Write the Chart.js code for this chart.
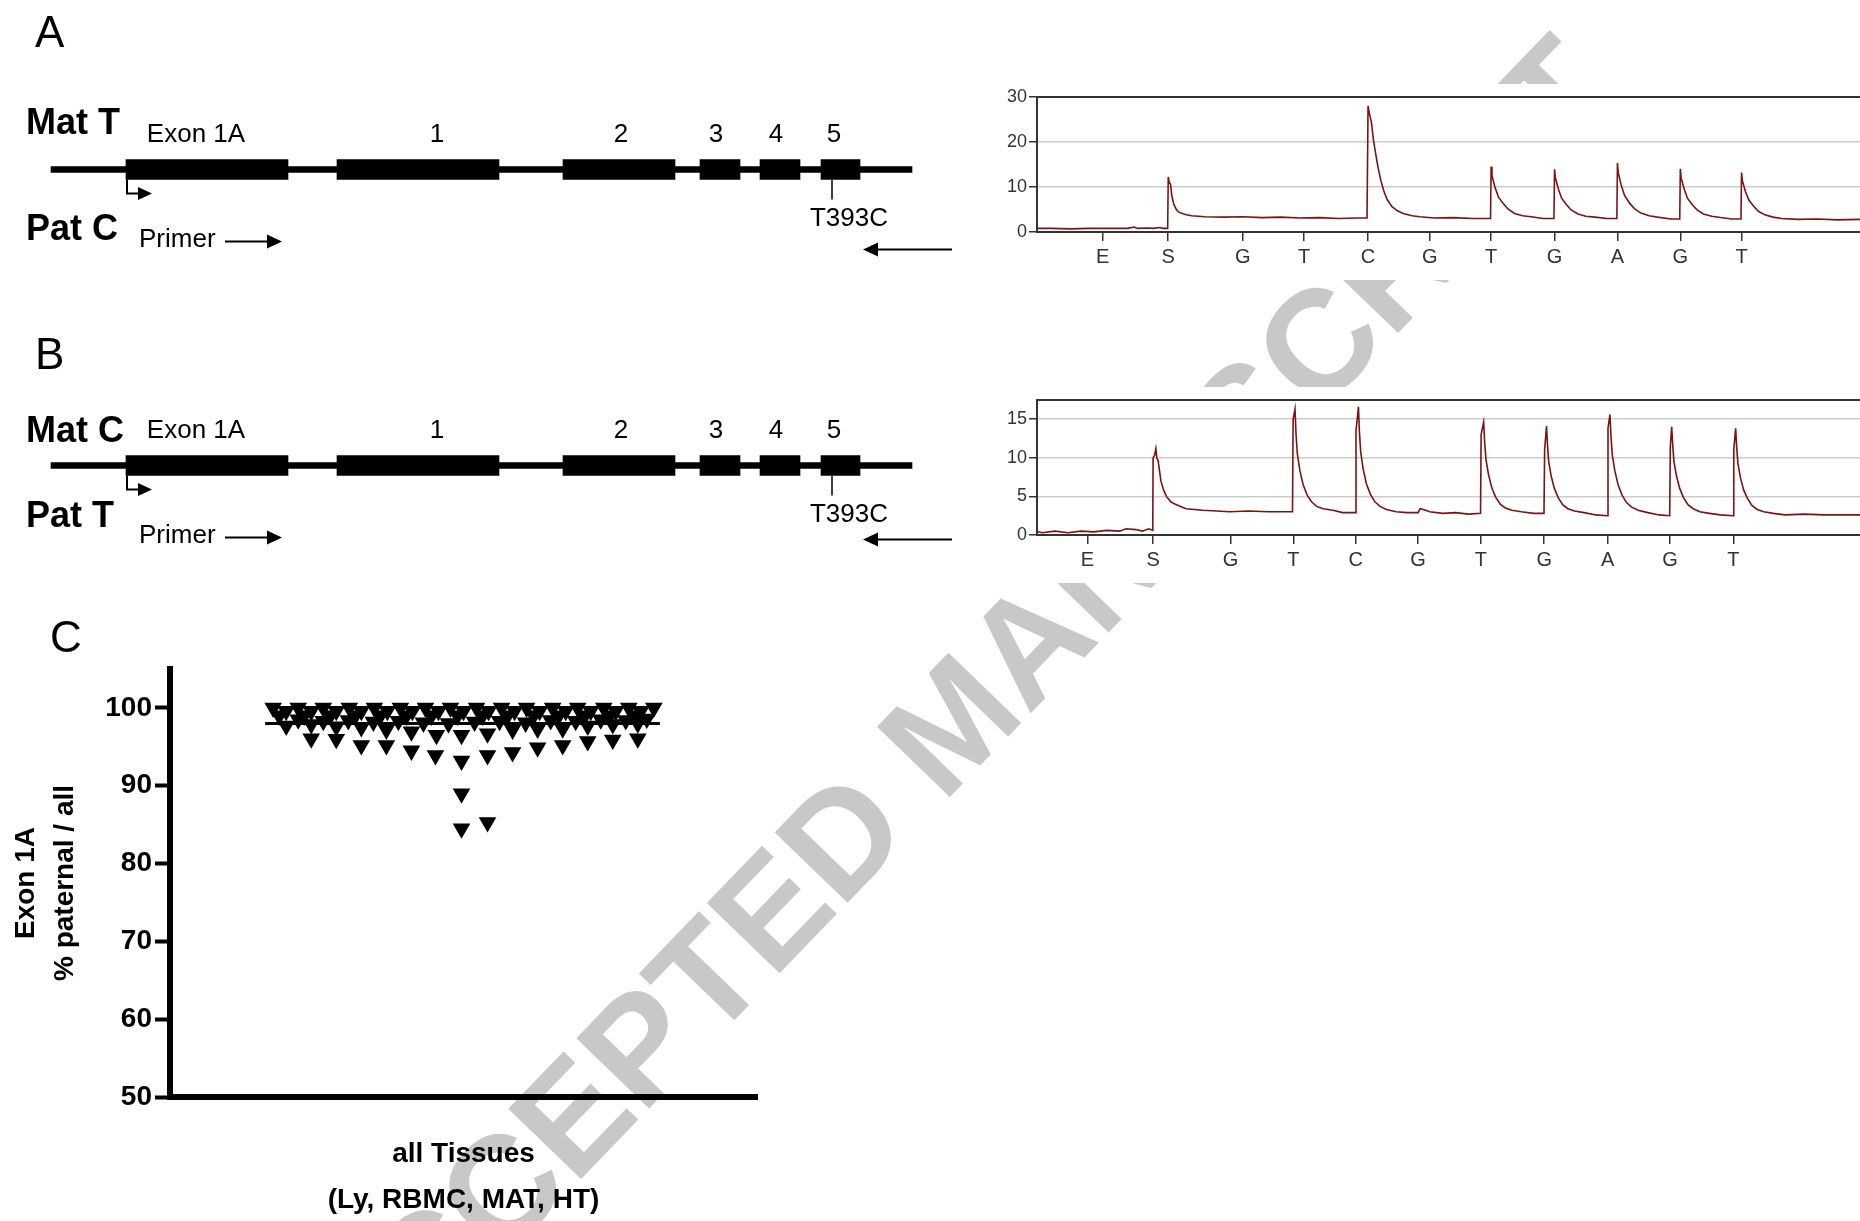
<!DOCTYPE html>
<html lang="en">
<head>
  <meta charset="UTF-8" />
  <title>Exon 1A allele expression</title>
  <script src="https://cdn.jsdelivr.net/npm/chart.js"></script>
  <style>
    body { margin: 0; width: 1860px; height: 1221px; overflow: hidden; background: #fff; position: relative;
           font-family: "Liberation Sans", Arial, sans-serif; }
    .box { position: absolute; }
    .panel { position: absolute; font-size: 44px; line-height: 1; transform: translateY(-50%); }
    #wm { position: absolute; left: 952px; top: 722px; transform: translate(-50%, -50%) rotate(-46deg);
          font: bold 147px "Liberation Sans", Arial, sans-serif; color: #c8c8c8; white-space: nowrap; line-height: 1; }
  </style>
</head>
<body>
  <div id="wm">ACCEPTED MANUSCRIPT</div>

  <div class="box" style="left:0;top:0"><canvas id="geneA" width="975" height="339"></canvas></div>
  <div class="box" style="left:0;top:316px"><canvas id="geneB" width="975" height="299"></canvas></div>
  <div class="box" style="left:977px;top:84px"><canvas id="pyroA" width="883" height="196"></canvas></div>
  <div class="box" style="left:977px;top:387px"><canvas id="pyroB" width="883" height="196"></canvas></div>
  <div class="box" style="left:0;top:620px"><canvas id="scatterC" width="800" height="603"></canvas></div>

  <div class="panel" style="left:35px;top:32px">A</div>
  <div class="panel" style="left:35px;top:354px">B</div>
  <div class="panel" style="left:50px;top:637px">C</div>

  <script>
    // ---- gene diagram (positions along the drawn locus) ----
    const exonNames = ['Exon 1A', '1', '2', '3', '4', '5'];
    const exonStart = [126, 337, 563, 700, 760, 821];
    const exonEnd = [288, 499, 675, 740, 800, 860];
    const exonLabelX = [196, 437, 621, 716, 776, 834];
    const geneSpan = [51, 912];
    const tssPos = 127;
    const mutationPos = 832;
    const mutationName = 'T393C';
    const fwdPrimer = [225, 282];
    const revPrimer = [952, 863];

    // ---- pyrograms (x in dispensation-run units) ----
    const dispensation = ['E', 'S', 'G', 'T', 'C', 'G', 'T', 'G', 'A', 'G', 'T'];
    const tickPosA = [1.106, 2.134, 3.301, 4.26, 5.261, 6.228, 7.187, 8.18, 9.164, 10.148, 11.106];
    const tickPosB = [0.801, 1.818, 3.015, 3.988, 4.953, 5.917, 6.89, 7.872, 8.854, 9.819, 10.801];
    const yTicksA = [0, 10, 20, 30];
    const yTicksB = [0, 5, 10, 15];

    const traceA = [
      [0, 1.2], [0.1, 0.8], [0.3, 0.8], [0.6, 0.7], [0.9, 0.8], [1.2, 0.8], [1.5, 0.8], [1.6, 1.1], [1.65, 0.8],
      [1.8, 0.9], [1.9, 0.8], [2.0, 1.0], [2.05, 0.8], [2.125, 0.8],
      [2.134, 12.2], [2.15, 11.0], [2.17, 10.6], [2.19, 8.0], [2.22, 6.2], [2.26, 5.0], [2.3, 4.4], [2.4, 3.9],
      [2.5, 3.6], [2.71, 3.4], [3.0, 3.3], [3.3, 3.4], [3.6, 3.2], [3.9, 3.3], [4.2, 3.1], [4.5, 3.2], [4.8, 3.0],
      [5.1, 3.1], [5.245, 3.1],
      [5.261, 28.0], [5.28, 26.5], [5.313, 24.4], [5.345, 20.5], [5.374, 17.9], [5.418, 14.3], [5.46, 11.5],
      [5.505, 9.2], [5.56, 7.2], [5.636, 5.6], [5.72, 4.7], [5.81, 4.1], [5.95, 3.6], [6.07, 3.4], [6.3, 3.1],
      [6.6, 3.2], [6.9, 3.0], [7.178, 3.0],
      [7.187, 14.5], [7.2, 12.5], [7.248, 9.9], [7.3, 7.8], [7.377, 6.3], [7.45, 5.1], [7.553, 4.1], [7.68, 3.6],
      [7.814, 3.4], [8.0, 3.0], [8.17, 3.0],
      [8.18, 13.9], [8.193, 12.0], [8.241, 9.5], [8.29, 7.5], [8.37, 6.0], [8.44, 4.9], [8.546, 4.0], [8.67, 3.5],
      [8.81, 3.3], [9.0, 3.0], [9.155, 3.0],
      [9.164, 15.3], [9.177, 13.1], [9.225, 10.3], [9.275, 8.1], [9.354, 6.4], [9.43, 5.2], [9.53, 4.2], [9.66, 3.6],
      [9.79, 3.3], [10.0, 2.9], [10.139, 2.9],
      [10.148, 14.0], [10.161, 12.0], [10.209, 9.5], [10.26, 7.5], [10.338, 6.0], [10.41, 4.9], [10.51, 4.0],
      [10.64, 3.5], [10.78, 3.2], [10.95, 2.9], [11.097, 2.9],
      [11.106, 13.2], [11.119, 11.4], [11.167, 9.0], [11.22, 7.1], [11.296, 5.7], [11.37, 4.6], [11.47, 3.8],
      [11.6, 3.3], [11.73, 3.0], [12.0, 2.8], [12.3, 2.9], [12.6, 2.7], [12.96, 2.8]
    ];

    const traceB = [
      [0, 0.5], [0.1, 0.3], [0.3, 0.5], [0.5, 0.3], [0.7, 0.5], [0.9, 0.4], [1.1, 0.6], [1.3, 0.5], [1.4, 0.8],
      [1.55, 0.7], [1.65, 0.5], [1.75, 0.8], [1.812, 0.6],
      [1.817, 10.0], [1.84, 10.3], [1.86, 11.2], [1.875, 10.0], [1.895, 9.6], [1.938, 7.0], [1.98, 5.8],
      [2.024, 5.0], [2.09, 4.3], [2.153, 4.0], [2.326, 3.4], [2.584, 3.2], [2.8, 3.1], [3.0, 3.0], [3.3, 3.1],
      [3.6, 3.0], [3.975, 3.0],
      [3.985, 15.0], [4.014, 16.3], [4.03, 13.0], [4.05, 10.5], [4.09, 8.3], [4.14, 6.5], [4.2, 5.2], [4.27, 4.3],
      [4.35, 3.7], [4.45, 3.4], [4.6, 3.2], [4.75, 2.9], [4.948, 2.9],
      [4.958, 13.5], [4.996, 16.6], [5.01, 13.5], [5.03, 10.8], [5.07, 8.5], [5.12, 6.6], [5.18, 5.3], [5.25, 4.3],
      [5.33, 3.7], [5.43, 3.3], [5.58, 3.0], [5.75, 2.9], [5.92, 2.9], [5.95, 3.4], [6.0, 3.3], [6.1, 3.0],
      [6.3, 2.8], [6.5, 2.9], [6.7, 2.7], [6.886, 2.8],
      [6.895, 13.0], [6.934, 14.6], [6.95, 12.0], [6.97, 9.8], [7.01, 7.8], [7.06, 6.1], [7.12, 4.9], [7.19, 4.0],
      [7.27, 3.5], [7.37, 3.2], [7.52, 3.0], [7.7, 2.8], [7.868, 2.8],
      [7.878, 11.0], [7.907, 14.1], [7.923, 11.6], [7.94, 9.6], [7.98, 7.6], [8.03, 6.0], [8.09, 4.8], [8.16, 3.9],
      [8.24, 3.4], [8.34, 3.1], [8.49, 2.9], [8.67, 2.6], [8.849, 2.5],
      [8.859, 13.8], [8.889, 15.6], [8.905, 12.8], [8.925, 10.4], [8.965, 8.3], [9.015, 6.5], [9.075, 5.2],
      [9.145, 4.2], [9.225, 3.6], [9.325, 3.2], [9.475, 2.9], [9.65, 2.6], [9.814, 2.5],
      [9.824, 11.5], [9.845, 14.0], [9.861, 11.6], [9.88, 9.5], [9.92, 7.6], [9.97, 6.0], [10.03, 4.8], [10.1, 3.9],
      [10.18, 3.4], [10.28, 3.0], [10.43, 2.8], [10.6, 2.6], [10.796, 2.5],
      [10.806, 11.0], [10.835, 13.8], [10.851, 11.4], [10.87, 9.3], [10.91, 7.4], [10.96, 5.8], [11.02, 4.7],
      [11.09, 3.8], [11.17, 3.3], [11.27, 3.0], [11.42, 2.8], [11.6, 2.6], [11.9, 2.7], [12.2, 2.6], [12.76, 2.6]
    ];

    // ---- panel C: % paternal Exon 1A, all tissues (x = horizontal spread of the column) ----
    const spreadX = [
      -190, -165, -140, -114, -89, -63, -38, -13, 13, 38, 63, 89, 114, 140, 165, 190,
      -177, -152, -127, -102, -76, -51, -25, 0, 25, 51, 76, 102, 127, 152, 177,
      -184, -159, -133, -108, -83, -57, -32, -6, 19, 44, 70, 95, 121, 146, 171,
      -165, -140, -115, -90, -65, -40, -15, 11, 36, 62, 87, 112, 137, 162, 183,
      -177, -152, -127, -102, -77, -52, -27, -2, 24, 49, 74, 99, 124, 149, 174,
      -152, -127, -102, -77, -52, -28, -2, 24, 49, 74, 99, 124, 149, 174,
      -2, -2, 24
    ];
    const paternalPct = [
      100, 100, 100, 100, 100, 100, 100, 100, 100, 100, 100, 100, 100, 100, 100, 100,
      99.6, 99.6, 99.6, 99.6, 99.6, 99.6, 99.6, 99.6, 99.6, 99.6, 99.6, 99.6, 99.6, 99.6, 99.6,
      99.0, 99.0, 99.0, 99.0, 99.0, 99.0, 99.0, 99.0, 99.0, 99.0, 99.0, 99.0, 99.0, 99.0, 99.0,
      98.5, 98.3, 98.4, 98.2, 98.3, 98.1, 98.0, 98.2, 98.3, 98.1, 98.4, 98.3, 98.5, 98.4, 98.6,
      97.7, 97.9, 97.6, 97.5, 97.2, 96.95, 96.5, 96.5, 96.7, 97.2, 97.3, 97.35, 97.7, 97.9, 98.0,
      96.05, 96.0, 95.2, 95.2, 94.5, 93.9, 93.2, 93.9, 94.3, 94.9, 95.2, 95.7, 95.9, 96.05,
      89.0, 84.5, 85.3
    ];
    const meanPct = 98.0;
    const meanSpan = [-198, 196];
    const pctTicks = [50, 60, 70, 80, 90, 100];

    const fontFamily = '"Liberation Sans", Arial, sans-serif';
    Chart.defaults.font.family = fontFamily;

    function arrowHead(ctx, x, y, dir, len, half) {
      ctx.beginPath();
      ctx.moveTo(x, y);
      ctx.lineTo(x - dir * len, y - half);
      ctx.lineTo(x - dir * len, y + half);
      ctx.closePath();
      ctx.fill();
    }

    function hArrow(ctx, x1, x2, y) {
      const dir = x2 > x1 ? 1 : -1;
      ctx.beginPath();
      ctx.moveTo(x1, y);
      ctx.lineTo(x2 - dir * 12, y);
      ctx.stroke();
      arrowHead(ctx, x2, y, dir, 15, 7);
    }

    const geneNotes = {
      id: 'geneNotes',
      afterDatasetsDraw(chart, args, opts) {
        const ctx = chart.ctx;
        const px = v => chart.scales.x.getPixelForValue(v);
        const yc = chart.scales.y.getPixelForValue(0);
        ctx.save();
        ctx.fillStyle = '#000';
        ctx.strokeStyle = '#000';
        ctx.textBaseline = 'middle';

        ctx.font = 'bold 36px ' + fontFamily;
        ctx.textAlign = 'left';
        ctx.fillText(opts.alleles[0], px(26), yc + opts.topDy);
        ctx.fillText(opts.alleles[1], px(26), yc + opts.bottomDy);

        ctx.font = '26px ' + fontFamily;
        ctx.textAlign = 'center';
        exonNames.forEach((n, i) => ctx.fillText(n, px(exonLabelX[i]), yc - 35));
        ctx.fillText(mutationName, px(mutationPos + 17), yc + 49);
        ctx.textAlign = 'left';
        ctx.fillText('Primer', px(139), yc + 70);

        ctx.lineWidth = 1.5;
        ctx.beginPath();
        ctx.moveTo(px(mutationPos), yc + 10);
        ctx.lineTo(px(mutationPos), yc + 30);
        ctx.stroke();

        ctx.lineWidth = 2;
        ctx.beginPath();
        ctx.moveTo(px(tssPos), yc + 10);
        ctx.lineTo(px(tssPos), yc + 24);
        ctx.lineTo(px(tssPos + 12), yc + 24);
        ctx.stroke();
        arrowHead(ctx, px(tssPos + 25), yc + 24, 1, 14, 6.5);

        hArrow(ctx, px(fwdPrimer[0]), px(fwdPrimer[1]), yc + 72);
        hArrow(ctx, px(revPrimer[0]), px(revPrimer[1]), yc + opts.revDy);
        ctx.restore();
      }
    };

    function geneChart(id, notes) {
      const datasets = [{ data: [geneSpan], barThickness: 6, backgroundColor: '#000', grouped: false }];
      exonStart.forEach((s, i) => {
        datasets.push({ data: [[s, exonEnd[i]]], barThickness: 20, backgroundColor: '#000', grouped: false });
      });
      new Chart(document.getElementById(id), {
        type: 'bar',
        data: { labels: ['locus'], datasets: datasets },
        options: {
          indexAxis: 'y',
          responsive: false,
          animation: false,
          layout: { padding: 0 },
          plugins: { legend: { display: false }, tooltip: { enabled: false }, geneNotes: notes },
          scales: {
            x: { type: 'linear', min: 0, max: 975, display: false },
            y: { display: false }
          }
        },
        plugins: [geneNotes]
      });
    }

    const paperWhite = {
      id: 'paperWhite',
      beforeDraw(chart) {
        const c = chart.ctx;
        c.save();
        c.fillStyle = '#fff';
        c.fillRect(0, 0, chart.width, chart.height);
        c.restore();
      }
    };

    function pyroChart(id, trace, tickPos, xMin, xMax, yMax, yTicks) {
      new Chart(document.getElementById(id), {
        type: 'line',
        data: {
          datasets: [{ data: trace, borderColor: '#7a1414', borderWidth: 1.6, pointRadius: 0, tension: 0 }]
        },
        options: {
          responsive: false,
          animation: false,
          layout: { padding: { top: 10, right: 0, bottom: 0, left: 0 } },
          plugins: { legend: { display: false }, tooltip: { enabled: false } },
          scales: {
            x: {
              type: 'linear', min: xMin, max: xMax,
              afterBuildTicks: s => { s.ticks = tickPos.map(v => ({ value: v })); },
              afterFit: s => { s.height = 48; },
              ticks: { callback: (v, i) => dispensation[i], autoSkip: false, maxRotation: 0, padding: 4,
                       color: '#333', font: { size: 20 } },
              grid: { drawOnChartArea: false, tickLength: 9, color: '#333', lineWidth: 1.5 },
              border: { color: '#333', width: 2 }
            },
            xTop: {
              type: 'linear', position: 'top', min: xMin, max: xMax,
              afterFit: s => { s.height = 0; },
              ticks: { display: false },
              grid: { display: false },
              border: { color: '#333', width: 2 }
            },
            y: {
              min: 0, max: yMax,
              afterBuildTicks: s => { s.ticks = yTicks.map(v => ({ value: v })); },
              afterFit: s => { s.width = 60; },
              ticks: { padding: 2, color: '#333', font: { size: 18 } },
              grid: { color: c => (c.tick && c.tick.value === 0) ? 'rgba(0,0,0,0)' : '#cccccc',
                      tickColor: '#333', tickLength: 8, lineWidth: 1.5 },
              border: { color: '#333', width: 2 }
            }
          }
        },
        plugins: [paperWhite]
      });
    }

    geneChart('geneA', { alleles: ['Mat T', 'Pat C'], topDy: -45, bottomDy: 61, revDy: 80 });
    geneChart('geneB', { alleles: ['Mat C', 'Pat T'], topDy: -33, bottomDy: 52, revDy: 74 });
    pyroChart('pyroA', traceA, tickPosA, 0.08, 12.96, 30, yTicksA);
    pyroChart('pyroB', traceB, tickPosB, 0.02, 12.76, 17.5, yTicksB);

    const boldFont = { size: 28, weight: 'bold' };
    new Chart(document.getElementById('scatterC'), {
      type: 'scatter',
      data: {
        datasets: [
          {
            data: spreadX.map((x, i) => ({ x: x, y: paternalPct[i] })),
            pointStyle: 'triangle', rotation: 180, pointRadius: 10.2,
            backgroundColor: '#000', borderWidth: 0
          },
          {
            type: 'line',
            data: meanSpan.map(x => ({ x: x, y: meanPct })),
            borderColor: '#000', borderWidth: 3, pointRadius: 0
          }
        ]
      },
      options: {
        responsive: false,
        animation: false,
        layout: { padding: { top: 49, right: 43, bottom: 0, left: 0 } },
        plugins: { legend: { display: false }, tooltip: { enabled: false } },
        scales: {
          x: {
            type: 'linear', min: -293, max: 293,
            afterFit: s => { s.height = 126; },
            ticks: { display: false },
            grid: { display: false },
            border: { color: '#000', width: 6 },
            title: { display: true, text: ['all Tissues', '(Ly, RBMC, MAT, HT)'], color: '#000',
                     font: { size: 28, weight: 'bold', lineHeight: '46px' }, padding: { top: 0, bottom: 0 } }
          },
          y: {
            min: 50, max: 105,
            afterBuildTicks: s => { s.ticks = pctTicks.map(v => ({ value: v })); },
            afterFit: s => { s.width = 170; },
            ticks: { color: '#000', padding: 3, font: boldFont },
            grid: { drawOnChartArea: false, tickLength: 15, tickWidth: 4, tickColor: '#000' },
            border: { color: '#000', width: 6 },
            title: { display: true, text: ['Exon 1A', '% paternal / all'], color: '#000',
                     font: { size: 28, weight: 'bold', lineHeight: 1.4 }, padding: { top: 6.4, bottom: 0 } }
          }
        }
      }
    });
  </script>
</body>
</html>
